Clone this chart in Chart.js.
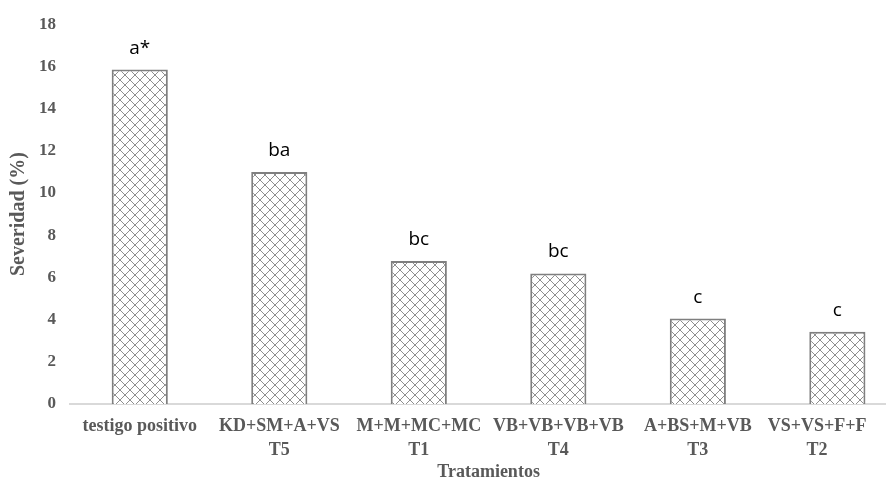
<!DOCTYPE html>
<html>
<head>
<meta charset="utf-8">
<script src="https://cdn.jsdelivr.net/npm/chart.js@4"></script>
<style>
  html, body { margin: 0; padding: 0; background: #fff; }
  #wrap { width: 886px; height: 481px; overflow: hidden; position: relative; }
  canvas { display: block; }
</style>
</head>
<body>
<div id="wrap"><canvas id="chart" width="918" height="481"></canvas></div>
<script>
// datos
const tratamientos = [
  'testigo positivo',
  ['KD+SM+A+VS', 'T5'],
  ['M+M+MC+MC', 'T1'],
  ['VB+VB+VB+VB', 'T4'],
  ['A+BS+M+VB', 'T3'],
  ['VS+VS+F+F', 'T2']
];
const severidad = [15.85, 11.0, 6.78, 6.19, 4.05, 3.42];
const letras = ['a*', 'ba', 'bc', 'bc', 'c', 'c'];
const yTicks = [0, 2, 4, 6, 8, 10, 12, 14, 16, 18];

const gris = '#595959';

// trama de rombos para las barras
function makePattern() {
  const s = 10;
  const c = document.createElement('canvas');
  c.width = s; c.height = s;
  const g = c.getContext('2d');
  g.fillStyle = '#fff';
  g.fillRect(0, 0, s, s);
  g.strokeStyle = '#8f8f8f';
  g.lineWidth = 1;
  g.beginPath();
  g.moveTo(0, 0); g.lineTo(s, s);
  g.moveTo(s, 0); g.lineTo(0, s);
  g.stroke();
  return document.getElementById('chart').getContext('2d').createPattern(c, 'repeat');
}

// letras encima de cada barra
const letrasPlugin = {
  id: 'letras',
  afterDatasetsDraw(chart) {
    const ctx = chart.ctx;
    const meta = chart.getDatasetMeta(0);
    ctx.save();
    ctx.font = '19px "Open Sans"';
    ctx.fillStyle = '#000';
    ctx.textAlign = 'center';
    ctx.textBaseline = 'alphabetic';
    meta.data.forEach((bar, i) => {
      ctx.fillText(letras[i], bar.x, bar.y - 16);
    });
    ctx.restore();
  }
};

new Chart(document.getElementById('chart'), {
  type: 'bar',
  data: {
    labels: tratamientos,
    datasets: [{
      data: severidad,
      backgroundColor: makePattern(),
      borderColor: '#7f7f7f',
      borderWidth: 2,
      borderSkipped: 'bottom',
      categoryPercentage: 0.8,
      barPercentage: 0.503
    }]
  },
  options: {
    responsive: false,
    animation: false,
    layout: { padding: { top: 20, right: 0, bottom: 0, left: 0 } },
    plugins: {
      legend: { display: false },
      tooltip: { enabled: false }
    },
    scales: {
      x: {
        grid: { display: false, drawTicks: false },
        border: { display: true, color: '#d9d9d9', width: 2 },
        ticks: {
          color: gris,
          maxRotation: 0,
          minRotation: 0,
          autoSkip: false,
          padding: 11,
          font: { family: '"Liberation Serif"', size: 18, weight: 'bold', lineHeight: 1.3 },
          // la ultima etiqueta va corrida a la izquierda, como en el original
          callback(value, index) {
            const lab = this.getLabelForValue(value);
            if (index === tratamientos.length - 1 && Array.isArray(lab)) {
              return lab.map(t => t + ' '.repeat(9));
            }
            return lab;
          }
        },
        title: {
          display: true,
          text: 'Tratamientos',
          color: gris,
          padding: { top: 0, bottom: 0 },
          font: { family: '"Liberation Serif"', size: 18, weight: 'bold', lineHeight: 1.0 }
        },
        afterFit(scale) { scale.height = 77; }
      },
      y: {
        min: 0,
        max: 18,
        grid: { display: false, drawTicks: false },
        border: { display: false },
        afterBuildTicks(scale) { scale.ticks = yTicks.map(v => ({ value: v })); },
        ticks: {
          color: gris,
          padding: 14,
          font: { family: '"Liberation Serif"', size: 17, weight: 'bold' }
        },
        title: {
          display: true,
          text: 'Severidad (%)',
          color: gris,
          padding: { top: 7, bottom: 0 },
          font: { family: '"Liberation Serif"', size: 20, weight: 'bold', lineHeight: 1.2 }
        },
        afterFit(scale) { scale.width = 70; }
      }
    }
  },
  plugins: [letrasPlugin]
});
</script>
</body>
</html>
